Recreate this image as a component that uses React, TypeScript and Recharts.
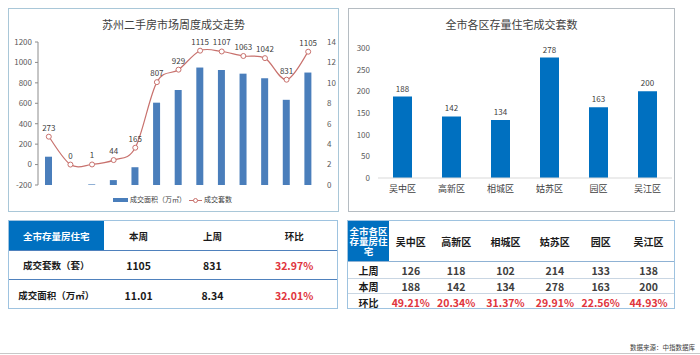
import React from 'react';
import { ComposedChart, BarChart, Bar, Line, XAxis, YAxis, LabelList } from 'recharts';

const weeks = ['W1', 'W2', 'W3', 'W4', 'W5', 'W6', 'W7', 'W8', 'W9', 'W10', 'W11', 'W12', 'W13'];
const areaValues = [2.77, 0, 0.06, 0.48, 1.74, 8.06, 9.3, 11.5, 11.26, 10.9, 10.45, 8.34, 11.01];
const countValues = [273, 0, 1, 44, 165, 807, 929, 1115, 1107, 1063, 1042, 831, 1105];
const leftTicks = [-200, 0, 200, 400, 600, 800, 1000, 1200];
const rightTicks = [0, 2, 4, 6, 8, 10, 12, 14];

const districts = ['吴中区', '高新区', '相城区', '姑苏区', '园区', '吴江区'];
const thisWeek = [188, 142, 134, 278, 163, 200];
const lastWeek = [126, 118, 102, 214, 133, 138];
const changes = ['49.21%', '20.34%', '31.37%', '29.91%', '22.56%', '44.93%'];
const districtTicks = [0, 50, 100, 150, 200, 250, 300];

const summaryHeader = ['全市存量房住宅', '本周', '上周', '环比'];
const summaryRows = [
  ['成交套数（套）', '1105', '831', '32.97%'],
  ['成交面积（万㎡）', '11.01', '8.34', '32.01%'],
];

const weekData = weeks.map((w, i) => ({ week: w, area: areaValues[i], count: countValues[i] }));
const districtData = districts.map((d, i) => ({ name: d, value: thisWeek[i] }));

const FONT = '"Noto Sans CJK SC", "Noto Sans", sans-serif';
const BLUE = '#0070c0';
const RED = '#e0353d';

const catmull: any = (context: any) => {
  let pts: number[][] = [];
  return {
    areaStart() {},
    areaEnd() {},
    lineStart() {
      pts = [];
    },
    point(x: number, y: number) {
      pts.push([+x, +y]);
    },
    lineEnd() {
      const n = pts.length;
      if (!n) return;
      context.moveTo(pts[0][0], pts[0][1]);
      for (let i = 0; i < n - 1; i++) {
        const p0 = pts[i - 1] || pts[i];
        const p1 = pts[i];
        const p2 = pts[i + 1];
        const p3 = pts[i + 2] || p2;
        context.bezierCurveTo(
          p1[0] + (p2[0] - p0[0]) / 6,
          p1[1] + (p2[1] - p0[1]) / 6,
          p2[0] - (p3[0] - p1[0]) / 6,
          p2[1] - (p3[1] - p1[1]) / 6,
          p2[0],
          p2[1]
        );
      }
    },
  };
};

const abs = (l: number, t: number, w: number, h: number): React.CSSProperties => ({
  position: 'absolute',
  left: l,
  top: t,
  width: w,
  height: h,
  boxSizing: 'border-box',
});

export default function App() {
  const tick8 = { fontSize: 8, fill: '#595959', fontFamily: FONT };
  const leftCols = [96, 70, 78, 86];
  const leftRowH = [30, 29, 30];
  const rightCols = [42, 44, 47, 52, 47, 45, 51];
  const rightRowH = [41, 17, 15, 16];
  return (
    <div style={{ position: 'absolute', left: 0, top: 0, width: 700, height: 355, background: '#fff', fontFamily: FONT, overflow: 'hidden' }}>
      {/* Left chart panel */}
      <div style={{ ...abs(8, 8, 331, 204), border: '1px solid #a9c7d8' }} />
      <div style={{ position: 'absolute', left: 8, top: 16, width: 331, textAlign: 'center', fontSize: 11, color: '#404040' }}>
        苏州二手房市场周度成交走势
      </div>
      <div style={{ position: 'absolute', left: 8, top: 8 }}>
        <ComposedChart width={331} height={204} data={weekData} margin={{ top: 34, right: 0, bottom: 27, left: 5 }}>
          <XAxis dataKey="week" hide />
          <YAxis
            yAxisId="left"
            orientation="left"
            width={25}
            domain={[-200, 1200]}
            ticks={leftTicks}
            interval={0}
            tick={tick8}
            axisLine={{ stroke: '#8c8c8c' }}
            tickLine={{ stroke: '#8c8c8c' }}
            tickSize={3}
            tickMargin={3}
          />
          <YAxis
            yAxisId="right"
            orientation="right"
            width={20}
            domain={[0, 14]}
            ticks={rightTicks}
            interval={0}
            tick={tick8}
            axisLine={false}
            tickLine={false}
            tickSize={6}
            tickMargin={2}
          />
          <Bar yAxisId="right" dataKey="area" fill="#4a7ebb" barSize={7} isAnimationActive={false} />
          <Line
            yAxisId="left"
            dataKey="count"
            type={catmull}
            stroke="#c8716d"
            strokeWidth={1.2}
            dot={{ r: 2.5, fill: '#fff', stroke: '#c8716d', strokeWidth: 1 }}
            isAnimationActive={false}
          >
            <LabelList dataKey="count" position="top" offset={6} style={{ fontSize: 8, fill: '#404040', fontFamily: FONT }} />
          </Line>
        </ComposedChart>
      </div>
      {/* Left legend */}
      <div style={{ position: 'absolute', left: 113, top: 198, width: 15, height: 4, background: '#4a7ebb' }} />
      <div style={{ position: 'absolute', left: 130, top: 194, fontSize: 7, color: '#404040', whiteSpace: 'nowrap' }}>成交面积（万㎡）</div>
      <div style={{ position: 'absolute', left: 189, top: 199.5, width: 13, height: 1, background: '#c8716d' }} />
      <div style={{ position: 'absolute', left: 193, top: 197.5, width: 5, height: 5, borderRadius: 3, border: '1px solid #c8716d', background: '#fff', boxSizing: 'border-box' }} />
      <div style={{ position: 'absolute', left: 204, top: 194, fontSize: 7, color: '#404040', whiteSpace: 'nowrap' }}>成交套数</div>

      {/* Right chart panel */}
      <div style={{ ...abs(348, 8, 327, 204), border: '1px solid #b5bcc2' }} />
      <div style={{ position: 'absolute', left: 348, top: 16, width: 327, textAlign: 'center', fontSize: 11, color: '#404040' }}>
        全市各区存量住宅成交套数
      </div>
      <div style={{ position: 'absolute', left: 348, top: 8 }}>
        <BarChart width={327} height={204} data={districtData} margin={{ top: 40, right: 3, bottom: 8, left: 5 }}>
          <XAxis
            dataKey="name"
            height={26}
            interval={0}
            tick={{ fontSize: 9, fill: '#404040', fontFamily: FONT }}
            axisLine={{ stroke: '#d9d9d9' }}
            tickLine={false}
          />
          <YAxis
            width={25}
            domain={[0, 300]}
            ticks={districtTicks}
            interval={0}
            tick={tick8}
            axisLine={false}
            tickLine={false}
          />
          <Bar dataKey="value" fill={BLUE} barSize={19} isAnimationActive={false}>
            <LabelList dataKey="value" position="top" offset={5} style={{ fontSize: 8, fill: '#404040', fontFamily: FONT }} />
          </Bar>
        </BarChart>
      </div>

      {/* Left table */}
      <div style={{ ...abs(8, 220, 330, 89), border: '1px solid #9ec3e0' }}>
        <div style={{ display: 'flex', height: leftRowH[0], borderBottom: '1px solid #4f81bd', boxSizing: 'border-box' }}>
          {summaryHeader.map((h, i) => (
            <div
              key={h}
              style={{
                width: leftCols[i] - (i === 0 ? 1 : 0),
                display: 'flex',
                alignItems: 'center',
                justifyContent: 'center',
                background: i === 0 ? BLUE : '#fff',
                color: i === 0 ? '#fff' : '#1a1a1a',
                fontWeight: 'bold',
                fontSize: 9.5,
              }}
            >
              {h}
            </div>
          ))}
        </div>
        {summaryRows.map((row, r) => (
          <div
            key={r}
            style={{ display: 'flex', height: leftRowH[r + 1], borderBottom: r === 0 ? '1px solid #4f81bd' : 'none', boxSizing: 'border-box' }}
          >
            {row.map((c, i) => (
              <div
                key={i}
                style={{
                  width: leftCols[i] - (i === 0 ? 1 : 0),
                  display: 'flex',
                  alignItems: 'center',
                  justifyContent: 'center',
                  color: i === 3 ? RED : '#1a1a1a',
                  fontWeight: 'bold',
                  fontSize: i === 0 ? 9.5 : 10.5,
                  whiteSpace: 'nowrap',
                }}
              >
                {c}
              </div>
            ))}
          </div>
        ))}
      </div>

      {/* Right table */}
      <div style={{ ...abs(347, 220, 328, 89), border: '1px solid #9ec3e0' }}>
        <div style={{ display: 'flex', height: rightRowH[0], borderBottom: '1px solid #8fb2d4', boxSizing: 'border-box' }}>
          <div
            style={{
              width: rightCols[0] - 1,
              background: BLUE,
              color: '#fff',
              fontWeight: 'bold',
              fontSize: 9.5,
              lineHeight: '10px',
              textAlign: 'center',
              display: 'flex',
              alignItems: 'center',
              justifyContent: 'center',
            }}
          >
            全市各区存量房住宅
          </div>
          {districts.map((d, i) => (
            <div
              key={d}
              style={{ width: rightCols[i + 1], display: 'flex', alignItems: 'center', justifyContent: 'center', fontWeight: 'bold', fontSize: 10, color: '#1a1a1a' }}
            >
              {d}
            </div>
          ))}
        </div>
        {[
          ['上周', lastWeek.map(String)],
          ['本周', thisWeek.map(String)],
          ['环比', changes],
        ].map(([label, vals]: any, r) => (
          <div
            key={label}
            style={{ display: 'flex', height: rightRowH[r + 1], borderBottom: r < 2 ? '1px solid #c9d6e3' : 'none', boxSizing: 'border-box' }}
          >
            <div style={{ width: rightCols[0] - 1, display: 'flex', alignItems: 'center', justifyContent: 'center', fontWeight: 'bold', fontSize: 10, color: '#1a1a1a' }}>
              {label}
            </div>
            {vals.map((v: string, i: number) => (
              <div
                key={i}
                style={{
                  width: rightCols[i + 1],
                  display: 'flex',
                  alignItems: 'center',
                  justifyContent: 'center',
                  fontWeight: 'bold',
                  fontSize: 10.5,
                  color: r === 2 ? RED : '#404040',
                  whiteSpace: 'nowrap',
                }}
              >
                {v}
              </div>
            ))}
          </div>
        ))}
      </div>

      {/* Source */}
      <div style={{ position: 'absolute', left: 630, top: 342, fontSize: 6.5, color: '#404040', whiteSpace: 'nowrap' }}>数据来源：中指数据库</div>
      <div style={{ position: 'absolute', left: 0, top: 353, width: 700, height: 1, background: '#c8c8c8' }} />
    </div>
  );
}
